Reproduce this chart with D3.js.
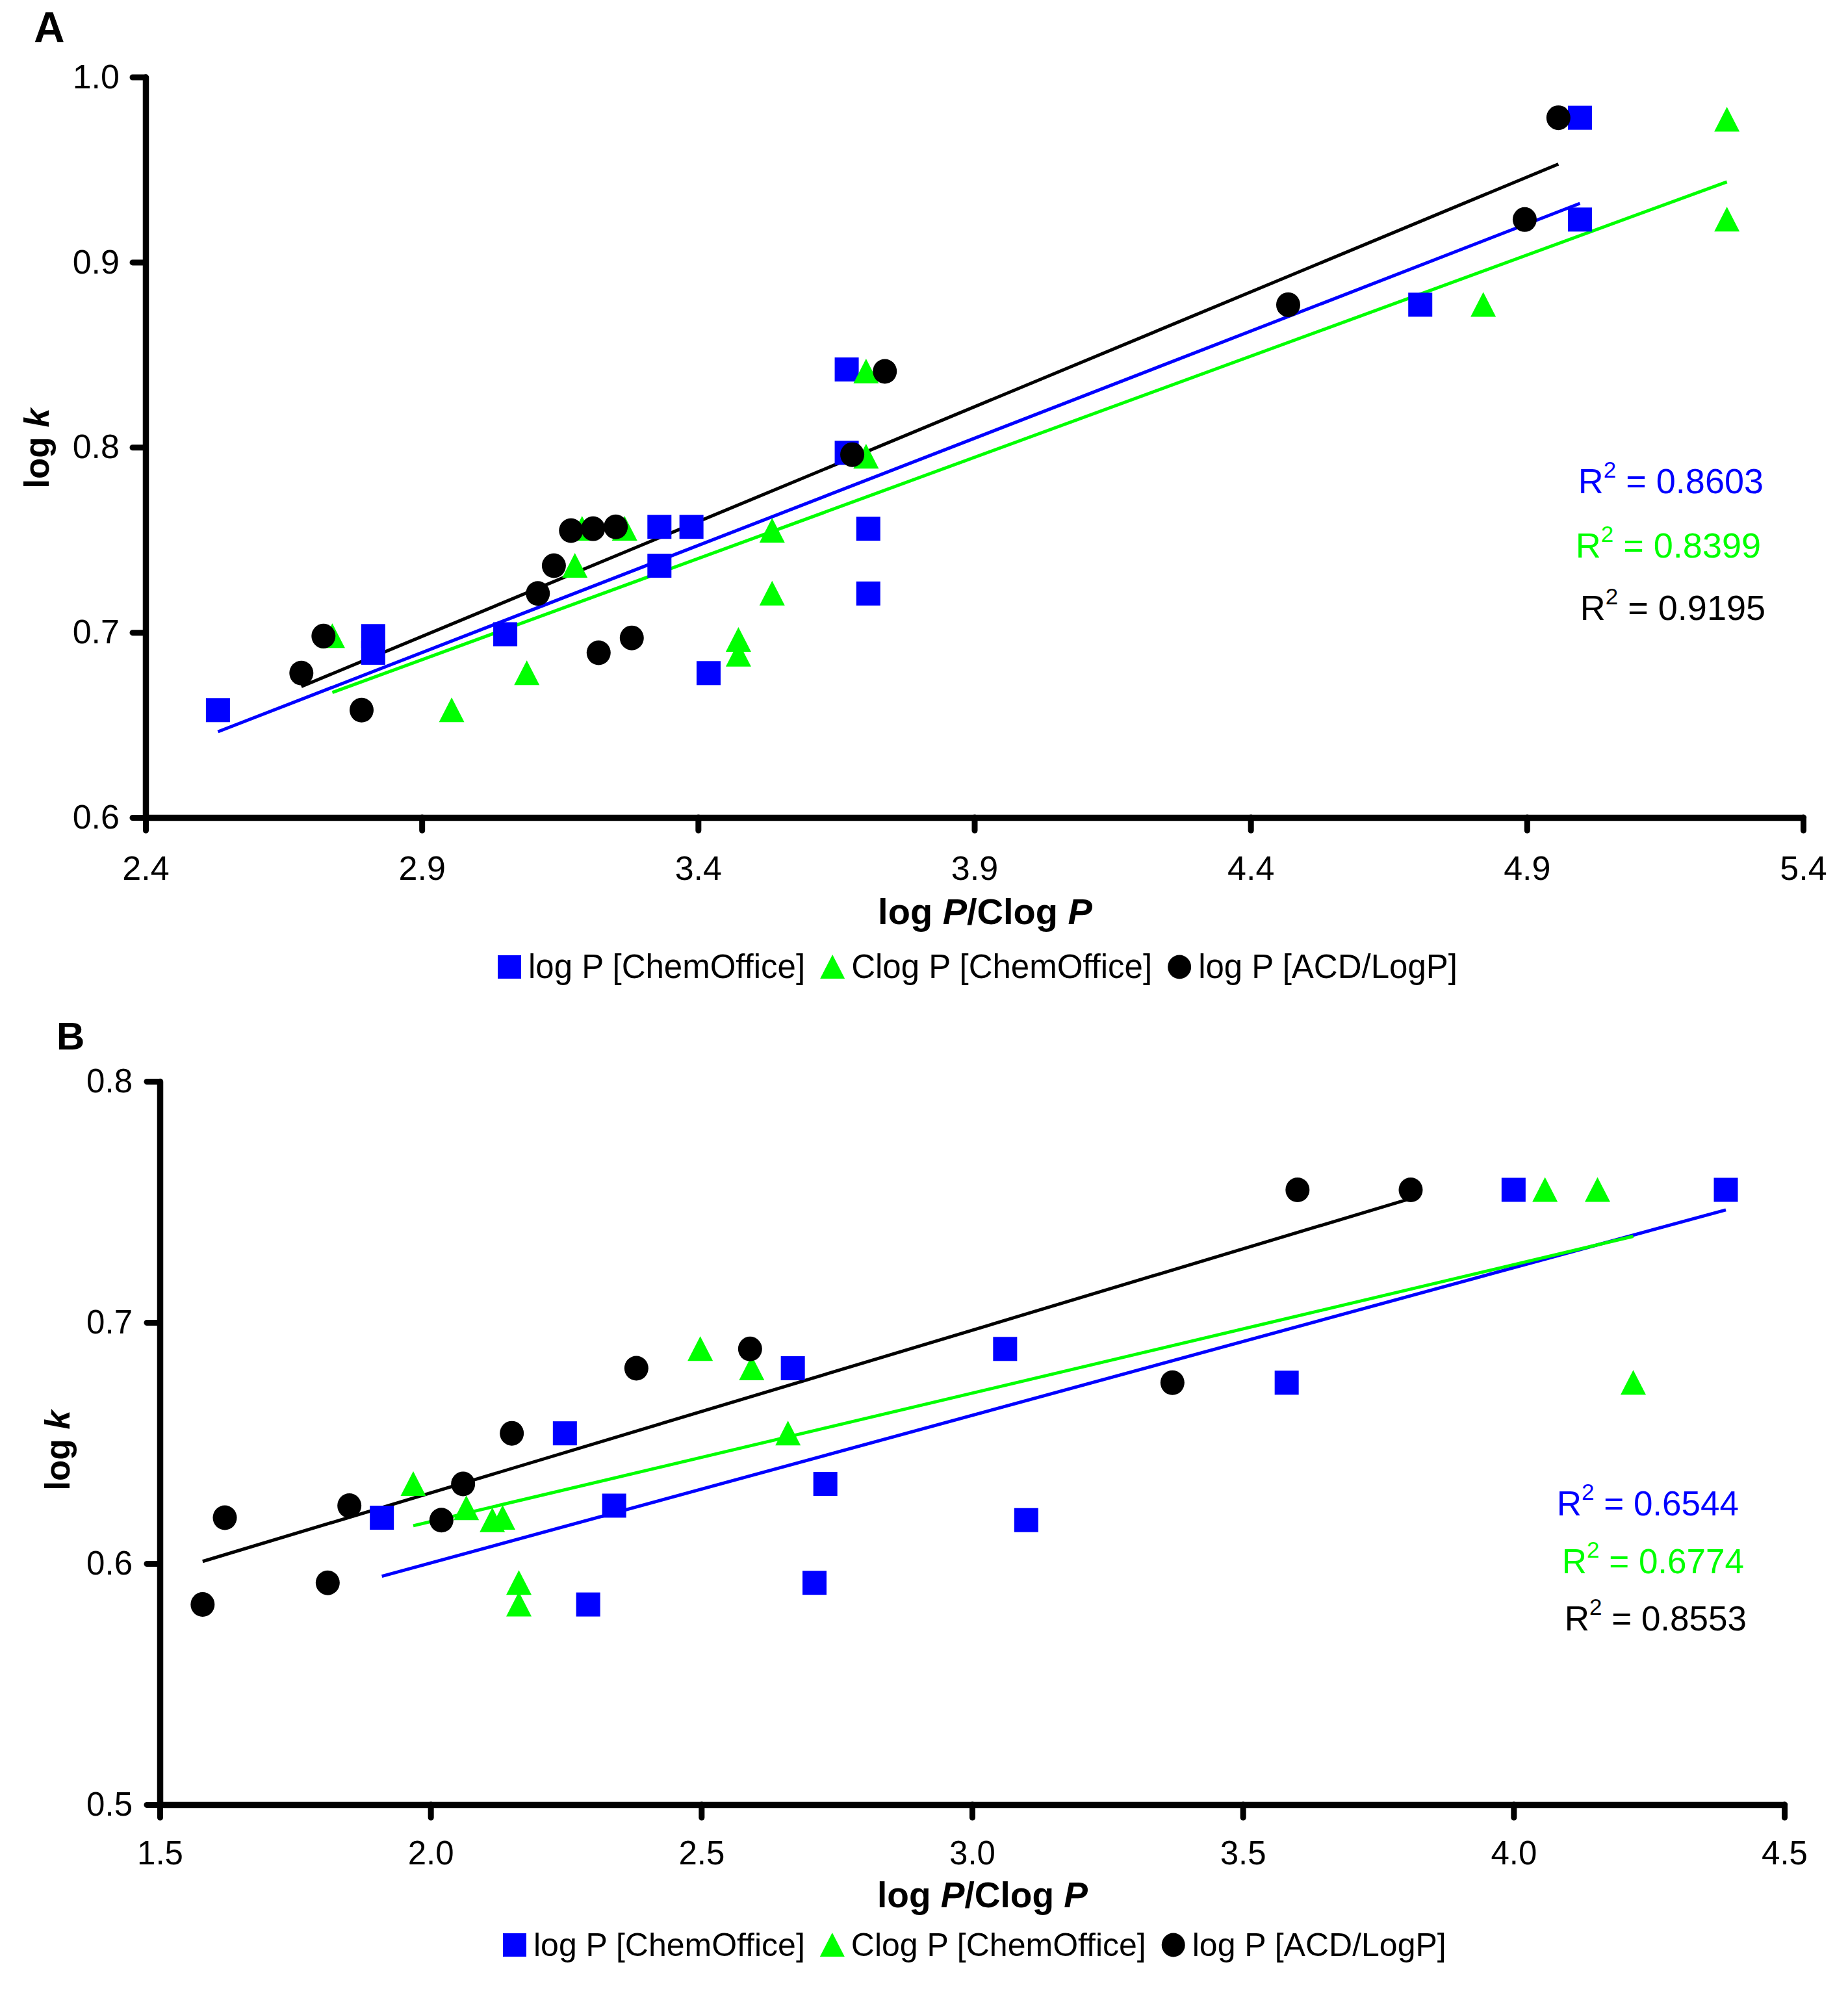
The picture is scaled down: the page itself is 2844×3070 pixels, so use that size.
<!DOCTYPE html>
<html>
<head>
<meta charset="utf-8">
<script src="https://cdn.jsdelivr.net/npm/d3@7"></script>
<style>
  body { margin: 0; background: #fff; }
  text { font-family: "Liberation Sans", Arial, sans-serif; }
</style>
</head>
<body>
<svg id="chart" width="2844" height="3070"></svg>
<script>
// ---- data ----
const seriesNames = ["log P [ChemOffice]", "Clog P [ChemOffice]", "log P [ACD/LogP]"];
const seriesColors = ["#0000ff", "#00ff00", "#000000"];

// panel A : [log P, log k]
const aLogPChem = [[2.531,0.658],[2.812,0.698],[2.812,0.689],[3.051,0.699],[3.330,0.757],[3.330,0.736],[3.388,0.757],
                   [3.419,0.678],[3.669,0.842],[3.669,0.797],[3.708,0.756],[3.708,0.721],[4.707,0.877],[4.996,0.978],[4.996,0.923]];
const aClogPChem = [[2.738,0.698],[2.954,0.658],[3.090,0.678],[3.177,0.736],[3.190,0.756],[3.267,0.756],[3.473,0.696],
                    [3.473,0.688],[3.534,0.721],[3.534,0.755],[3.704,0.841],[3.704,0.795],[4.821,0.877],[5.262,0.977],[5.262,0.923]];
const aLogPAcd = [[2.682,0.678],[2.722,0.698],[2.791,0.658],[3.110,0.721],[3.139,0.736],[3.170,0.755],[3.210,0.756],
                  [3.251,0.757],[3.220,0.689],[3.280,0.697],[3.679,0.796],[3.738,0.841],[4.468,0.877],[4.896,0.923],[4.957,0.978]];
const aR2 = ["0.8603", "0.8399", "0.9195"];
const aXTicks = [2.4, 2.9, 3.4, 3.9, 4.4, 4.9, 5.4];
const aYTicks = [0.6, 0.7, 0.8, 0.9, 1.0];

// panel B
const bLogPChem = [[1.910,0.619],[2.248,0.654],[2.339,0.624],[2.291,0.583],[2.669,0.681],[2.729,0.633],[2.709,0.592],
                   [3.061,0.689],[3.100,0.618],[3.581,0.675],[4.000,0.755],[4.392,0.755]];
const bClogPChem = [[1.968,0.633],[2.066,0.623],[2.114,0.618],[2.133,0.619],[2.163,0.592],[2.163,0.583],[2.498,0.689],
                    [2.593,0.681],[2.660,0.654],[4.058,0.755],[4.155,0.755],[4.221,0.675]];
const bLogPAcd = [[1.579,0.583],[1.620,0.619],[1.810,0.592],[1.850,0.624],[2.020,0.618],[2.060,0.633],[2.150,0.654],
                  [2.380,0.681],[2.590,0.689],[3.370,0.675],[3.601,0.755],[3.810,0.755]];
const bR2 = ["0.6544", "0.6774", "0.8553"];
const bXTicks = [1.5, 2.0, 2.5, 3.0, 3.5, 4.0, 4.5];
const bYTicks = [0.5, 0.6, 0.7, 0.8];

const svg = d3.select("#chart");

// least squares fit, like the excel trendline
function fit(pts) {
    const mx = d3.mean(pts, d => d[0]), my = d3.mean(pts, d => d[1]);
    let sxy = 0, sxx = 0;
    pts.forEach(d => { sxy += (d[0]-mx)*(d[1]-my); sxx += (d[0]-mx)*(d[0]-mx); });
    const slope = sxy / sxx;
    return {slope: slope, intercept: my - slope*mx};
}

function marker(g, kind, color, size) {
    const h = size/2;
    if (kind === 0) {
        g.append("rect").attr("x", -h).attr("y", -h).attr("width", size).attr("height", size).attr("fill", color);
    } else if (kind === 1) {
        g.append("path").attr("d", `M0,${-h-1}L${h+1},${h}L${-h-1},${h}Z`).attr("fill", color);
    } else {
        g.append("ellipse").attr("rx", h).attr("ry", h+0.5).attr("fill", color);
    }
}

function drawPanel(p) {
    const g = svg.append("g");
    const x = d3.scaleLinear().domain(p.xDomain).range(p.xRange);
    const y = d3.scaleLinear().domain(p.yDomain).range(p.yRange);

    // axes
    const xAxis = g.append("g").attr("transform", `translate(0,${p.yRange[0]})`)
        .call(d3.axisBottom(x).tickValues(p.xTicks).tickFormat(d3.format(".1f"))
              .tickSizeInner(20).tickSizeOuter(0).tickPadding(p.xPad));
    const yAxis = g.append("g").attr("transform", `translate(${p.xRange[0]},0)`)
        .call(d3.axisLeft(y).tickValues(p.yTicks).tickFormat(d3.format(".1f"))
              .tickSizeInner(20).tickSizeOuter(0).tickPadding(p.yPad));
    [xAxis, yAxis].forEach(a => {
        a.select(".domain").attr("stroke-width", 9.5).attr("stroke-linecap", "round");
        a.selectAll(".tick line").attr("stroke-width", 9).attr("stroke-linecap", "round");
        a.selectAll(".tick text").attr("font-size", p.tickFont).attr("font-family", "Liberation Sans, Arial, sans-serif")
            .attr("fill", "#000");
    });

    // trendlines
    p.series.forEach((pts, i) => {
        const f = fit(pts);
        const ext = d3.extent(pts, d => d[0]);
        g.append("line")
            .attr("x1", x(ext[0])).attr("y1", y(f.intercept + f.slope*ext[0]))
            .attr("x2", x(ext[1])).attr("y2", y(f.intercept + f.slope*ext[1]))
            .attr("stroke", seriesColors[i]).attr("stroke-width", 5);
    });

    // points
    p.series.forEach((pts, i) => {
        g.append("g").selectAll("g").data(pts).enter().append("g")
            .attr("transform", d => `translate(${x(d[0])},${y(d[1])})`)
            .each(function () { marker(d3.select(this), i, seriesColors[i], 37); });
    });

    // R^2 labels
    p.r2.forEach((v, i) => {
        const t = g.append("text").attr("x", p.r2x[i]).attr("y", p.r2y[i])
            .attr("text-anchor", "end").attr("font-size", p.r2Font).attr("fill", seriesColors[i]);
        t.append("tspan").text("R");
        t.append("tspan").attr("font-size", 35).attr("dy", -24).text("2");
        t.append("tspan").attr("dy", 24).text(" = " + v);
    });

    // axis titles
    const xt = g.append("text").attr("x", p.xTitle[0]).attr("y", p.xTitle[1]).attr("text-anchor", "middle")
        .attr("font-size", p.xTitle[2]).attr("font-weight", "bold");
    xt.append("tspan").text("log ");
    xt.append("tspan").attr("font-style", "italic").text("P");
    xt.append("tspan").text("/Clog ");
    xt.append("tspan").attr("font-style", "italic").text("P");

    const yt = g.append("text").attr("transform", `translate(${p.yTitle[0]},${p.yTitle[1]}) rotate(-90)`)
        .attr("text-anchor", "middle").attr("font-size", 53).attr("font-weight", "bold");
    yt.append("tspan").text("log ");
    yt.append("tspan").attr("font-style", "italic").text("k");

    // panel letter
    g.append("text").attr("x", p.letter[0]).attr("y", p.letter[1]).attr("font-size", p.letter[2])
        .attr("font-weight", "bold").text(p.name);

    // legend
    const lg = g.append("g").attr("transform", `translate(${p.legend[0]},${p.legend[1]})`);
    let lx = 0;
    seriesNames.forEach((name, i) => {
        const m = lg.append("g").attr("transform", `translate(${lx + 18},-17)`);
        marker(m, i, seriesColors[i], 36);
        const t = lg.append("text").attr("x", lx + 47).attr("y", 0).attr("font-size", p.legendFont).text(name);
        lx += 47 + t.node().getComputedTextLength() + 24;
    });
}

drawPanel({
    name: "A", letter: [52, 65, 66],
    xDomain: [2.4, 5.4], xRange: [224, 2775], yDomain: [0.6, 1.0], yRange: [1258, 118.5],
    xTicks: aXTicks, yTicks: aYTicks, xPad: 39, yPad: 20, tickFont: 52,
    series: [aLogPChem, aClogPChem, aLogPAcd],
    r2: aR2, r2x: [2714, 2710, 2717], r2y: [759, 858, 954], r2Font: 54,
    xTitle: [1516, 1422, 56], yTitle: [75, 690],
    legend: [766, 1505], legendFont: 51
});

drawPanel({
    name: "B", letter: [87, 1615, 60],
    xDomain: [1.5, 4.5], xRange: [246, 2746], yDomain: [0.5, 0.8], yRange: [2777, 1664],
    xTicks: bXTicks, yTicks: bYTicks, xPad: 36, yPad: 22, tickFont: 51,
    series: [bLogPChem, bClogPChem, bLogPAcd],
    r2: bR2, r2x: [2676, 2684, 2688], r2y: [2332, 2421, 2509], r2Font: 53,
    xTitle: [1512, 2935, 55], yTitle: [107, 2232],
    legend: [774, 3010], legendFont: 50
});
</script>
</body>
</html>
